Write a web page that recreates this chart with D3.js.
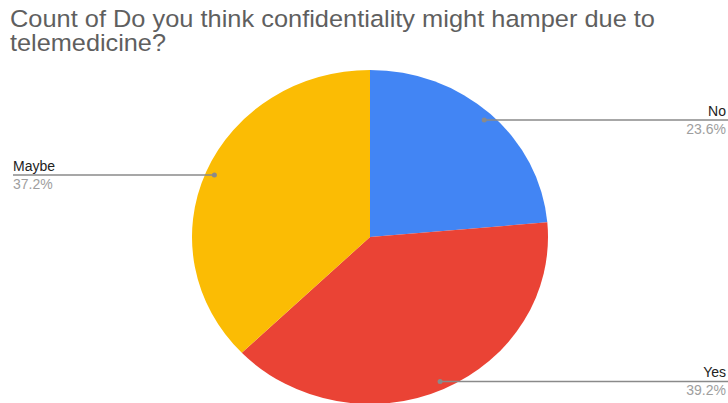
<!DOCTYPE html>
<head>
  <meta charset="utf-8">
  <style>
    body { margin: 0; background: #fff; font-family: 'Liberation Sans', Arial, sans-serif; }
    .title { fill: #5f5f5f; font-size: 24.5px; }
    .lbl { fill: #222; font-size: 14px; }
    .pct { fill: #9e9e9e; font-size: 14px; }
    .leader { stroke: #8a8a8a; stroke-width: 1.5px; fill: none; }
  </style>
</head>
<body>
<svg id="chart" width="728" height="403"></svg>
<script src="https://cdn.jsdelivr.net/npm/d3@7/dist/d3.min.js"></script>
<script>
  var titleLines = ["Count of Do you think confidentiality might hamper due to", "telemedicine?"];
  var titleWidths = [645, 156];
  var categories = ["No", "Yes", "Maybe"];
  var values = [23.6, 39.2, 37.2];
  var colors = ["#4285f4", "#ea4335", "#fbbc04"];

  var svg = d3.select("#chart");
  var cx = 370, cy = 237, rx = 178, ry = 167;

  // title, two lines
  svg.selectAll("text.title").data(titleLines).enter().append("text")
    .attr("class", "title")
    .attr("x", 10)
    .attr("y", function(d, i) { return 27 + i * 24; })
    .attr("textLength", function(d, i) { return titleWidths[i]; })
    .attr("lengthAdjust", "spacingAndGlyphs")
    .text(function(d) { return d; });

  var pie = d3.pie().sort(null).value(function(d) { return d; });
  var arcs = pie(values);
  var arc = d3.arc().innerRadius(0).outerRadius(ry);

  // pie is slightly wider than tall in the reference
  var g = svg.append("g")
    .attr("transform", "translate(" + cx + "," + cy + ") scale(" + (rx / ry) + ",1)");
  g.selectAll("path").data(arcs).enter().append("path")
    .attr("d", arc)
    .attr("fill", function(d, i) { return colors[i]; });

  // leader lines and labels
  var labelG = svg.append("g");
  arcs.forEach(function(a, i) {
    var mid = (a.startAngle + a.endAngle) / 2;
    var px = cx + 0.95 * rx * Math.sin(mid);
    var py = cy - 0.95 * ry * Math.cos(mid);
    var right = Math.sin(mid) > 0;
    var ex = right ? 728 : 13;
    labelG.append("line").attr("class", "leader")
      .attr("x1", px).attr("y1", py).attr("x2", ex).attr("y2", py);
    labelG.append("circle").attr("cx", px).attr("cy", py).attr("r", 2.5).attr("fill", "#8a8a8a");
    var tx = right ? 726 : 13;
    var anchor = right ? "end" : "start";
    labelG.append("text").attr("class", "lbl").attr("x", tx).attr("y", py - 4)
      .attr("text-anchor", anchor).text(categories[i]);
    labelG.append("text").attr("class", "pct").attr("x", tx).attr("y", py + 14)
      .attr("text-anchor", anchor).text(values[i].toFixed(1) + "%");
  });
</script>
</body>
